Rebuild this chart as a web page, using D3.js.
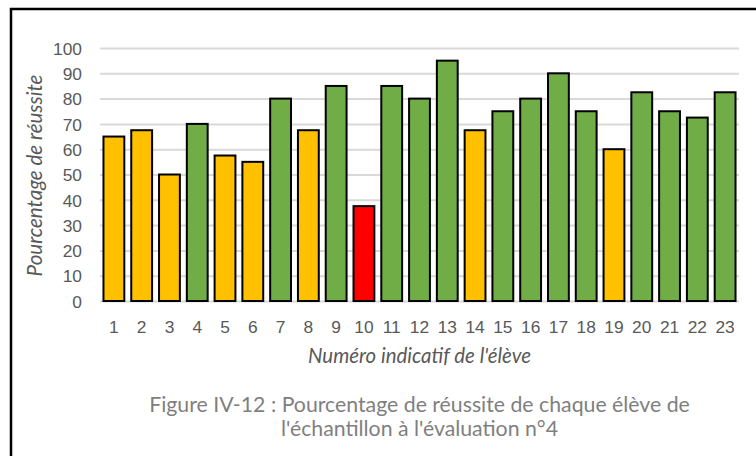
<!DOCTYPE html>
<html>
  <head>
    <meta charset="utf-8">
    <title>Pourcentage de réussite</title>
    <style>
    body { margin: 0; background: #fff; }
    svg { display: block; font-family: Lato, "Open Sans", sans-serif; }
    .tick text { fill: #595959; }
    .grid line { stroke: #d9d9d9; stroke-width: 2; }
    .bar { stroke: #000; stroke-width: 2; }
    </style>
  </head>
  <body>
    <svg width="756" height="456"></svg>
    <script src="https://d3js.org/d3.v7.min.js"></script>
    <script>

      // data
      var eleves = ["1","2","3","4","5","6","7","8","9","10","11","12","13","14","15","16","17","18","19","20","21","22","23"];
      var reussite = [65, 67.5, 50, 70, 57.5, 55, 80, 67.5, 85, 37.5, 85, 80, 95, 67.5, 75, 80, 90, 75, 60, 82.5, 75, 72.5, 82.5];
      var niveau = ["moyen","moyen","moyen","bon","moyen","moyen","bon","moyen","bon","faible","bon","bon","bon","moyen","bon","bon","bon","bon","moyen","bon","bon","bon","bon"];
      var yTicks = [0, 10, 20, 30, 40, 50, 60, 70, 80, 90, 100];

      var colors = {bon: "#70ad47", moyen: "#ffc000", faible: "#ff0000"};

      var svg = d3.select("svg"),
          margin = {top: 48, right: 17, bottom: 155, left: 100},
          width = +svg.attr("width") - margin.left - margin.right,
          height = +svg.attr("height") - margin.top - margin.bottom;

      // Calibri-like sizing: scale a font so a text spans a given width
      function fitWidth(sel, w) {
        var fs = parseFloat(sel.style("font-size"));
        var len = sel.node().getComputedTextLength();
        sel.style("font-size", (fs * w / len).toFixed(2) + "px");
      }

      // frame (only top and left edges visible in the crop)
      svg.append("rect")
          .attr("x", 11).attr("y", 9)
          .attr("width", 800).attr("height", 500)
          .attr("fill", "none")
          .attr("stroke", "#000")
          .attr("stroke-width", 2.5);

      var x = d3.scaleBand().domain(eleves).range([0, width]).paddingInner(0.25).paddingOuter(0.125),
          y = d3.scaleLinear().domain([0, 100]).range([height, 0]);

      var g = svg.append("g")
          .attr("transform", "translate(" + margin.left + "," + margin.top + ")");

      g.append("g")
          .attr("class", "grid")
          .call(d3.axisLeft(y).tickValues(yTicks).tickSize(-width).tickFormat(""))
          .call(function(s) { s.select(".domain").remove(); });

      var yAxis = g.append("g")
          .attr("class", "axis axis--y")
          .attr("transform", "translate(-12,0)")
          .call(d3.axisLeft(y).tickValues(yTicks).tickSize(0).tickPadding(6))
          .call(function(s) { s.select(".domain").remove(); });
      yAxis.selectAll("text").style("font-size", "16px").attr("dy", "0.36em");
      var yFs = 16 * 29 / yAxis.selectAll("text").filter(function(d) { return d === 100; }).node().getComputedTextLength();
      yAxis.selectAll("text").style("font-size", yFs + "px");

      var xAxis = g.append("g")
          .attr("class", "axis axis--x")
          .attr("transform", "translate(0," + height + ")")
          .call(d3.axisBottom(x).tickSize(0).tickPadding(0))
          .call(function(s) { s.select(".domain").remove(); });
      xAxis.selectAll("text").attr("dy", null).attr("y", 32).style("font-size", yFs + "px");

      g.selectAll(".bar")
        .data(eleves)
        .enter().append("rect")
          .attr("class", "bar")
          .attr("x", function(d) { return x(d); })
          .attr("y", function(d, i) { return y(reussite[i]); })
          .attr("width", x.bandwidth())
          .attr("height", function(d, i) { return height - y(reussite[i]); })
          .attr("fill", function(d, i) { return colors[niveau[i]]; });

      // axis titles
      var yTitle = svg.append("text")
          .attr("transform", "translate(42," + (margin.top + height / 2 + 1) + ") rotate(-90)")
          .attr("text-anchor", "middle")
          .attr("fill", "#595959")
          .style("font-size", "16px")
          .style("font-style", "italic")
          .text("Pourcentage de réussite");
      fitWidth(yTitle, 202);

      var xTitle = svg.append("text")
          .attr("x", margin.left + width / 2)
          .attr("y", 363)
          .attr("text-anchor", "middle")
          .attr("fill", "#595959")
          .style("font-size", "16px")
          .style("font-style", "italic")
          .text("Numéro indicatif de l'élève");
      fitWidth(xTitle, 223);

      // caption
      var capX = margin.left + width / 2;
      var cap = svg.append("text")
          .attr("x", capX)
          .attr("y", 412)
          .attr("text-anchor", "middle")
          .attr("fill", "#7f7f7f")
          .style("font-size", "18px")
          .text("Figure IV-12 : Pourcentage de réussite de chaque élève de");
      fitWidth(cap, 541);

      svg.append("text")
          .attr("x", capX)
          .attr("y", 436)
          .attr("text-anchor", "middle")
          .attr("fill", "#7f7f7f")
          .style("font-size", cap.style("font-size"))
          .text("l'échantillon à l'évaluation n°4");
  </script>
  </body>
</html>
